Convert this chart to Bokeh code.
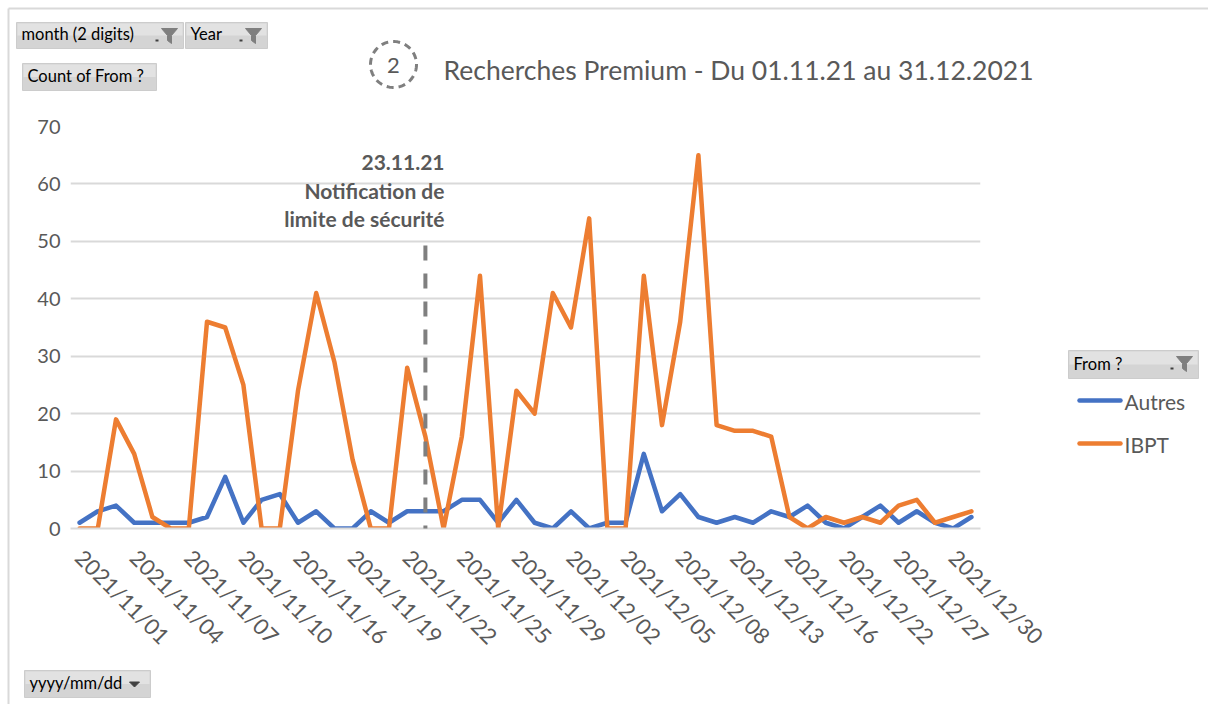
import math
from bokeh.plotting import figure
from bokeh.models import Range1d, Label, Arrow, FixedTicker
from bokeh.core.properties import value
from bokeh.embed import file_html
from bokeh.resources import INLINE

# ---------------- data ----------------
dates = [
    "2021/11/01", "2021/11/02", "2021/11/03", "2021/11/04", "2021/11/05",
    "2021/11/06", "2021/11/07", "2021/11/08", "2021/11/09", "2021/11/10",
    "2021/11/11", "2021/11/14", "2021/11/16", "2021/11/17", "2021/11/18",
    "2021/11/19", "2021/11/20", "2021/11/21", "2021/11/22", "2021/11/23",
    "2021/11/24", "2021/11/25", "2021/11/26", "2021/11/28", "2021/11/29",
    "2021/11/30", "2021/12/01", "2021/12/02", "2021/12/03", "2021/12/04",
    "2021/12/05", "2021/12/06", "2021/12/07", "2021/12/08", "2021/12/09",
    "2021/12/10", "2021/12/13", "2021/12/14", "2021/12/15", "2021/12/16",
    "2021/12/17", "2021/12/21", "2021/12/22", "2021/12/23", "2021/12/24",
    "2021/12/27", "2021/12/28", "2021/12/29", "2021/12/30", "2021/12/31",
]
autres = [1, 3, 4, 1, 1, 1, 1, 2, 9, 1,
          5, 6, 1, 3, 0, 0, 3, 1, 3, 3,
          3, 5, 5, 1, 5, 1, 0, 3, 0, 1,
          1, 13, 3, 6, 2, 1, 2, 1, 3, 2,
          4, 1, 0, 2, 4, 1, 3, 1, 0, 2]
ibpt = [0, 0, 19, 13, 2, 0, 0, 36, 35, 25,
        0, 0, 24, 41, 29, 12, 0, 0, 28, 16,
        0, 16, 44, 0, 24, 20, 41, 35, 54, 0,
        0, 44, 18, 36, 65, 18, 17, 17, 16, 2,
        0, 2, 1, 2, 1, 4, 5, 1, 2, 3]
series_names = ["Autres", "IBPT"]
y_ticks = [0, 10, 20, 30, 40, 50, 60, 70]
label_step = 3
annotation_date = "2021/11/23"
annotation_lines = ["23.11.21", "Notification de", "limite de sécurité"]
title_text = "Recherches Premium - Du 01.11.21 au 31.12.2021"
badge_text = "2"

# ---------------- styling ----------------
FONT = "Lato"
TXT = "#595959"
BLUE = "#4472C4"
ORANGE = "#ED7D31"
GRID = "#d9d9d9"

# frame geometry (canvas pixels)
W, H = 1208, 704
FL, FR, FT, FB = 70, 980, 126, 528
YMAX = 70
BASE_SHIFT = 7  # renderer draws alphabetic baseline a little low

x = list(range(len(dates)))

p = figure(width=W, height=H, output_backend="svg", toolbar_location=None,
           x_range=Range1d(-0.5, len(dates) - 0.5), y_range=Range1d(0, YMAX),
           min_border_left=FL, min_border_right=W - FR, min_border_top=FT,
           min_border_bottom=H - FB)
p.outline_line_color = None
p.background_fill_color = "white"
p.border_fill_color = "white"

# axes
p.xaxis.ticker = FixedTicker(ticks=x[::label_step])
p.xaxis.major_label_overrides = {i: dates[i] for i in x[::label_step]}
p.xaxis.major_label_orientation = -math.pi / 4
p.xaxis.axis_line_color = GRID
p.xaxis.axis_line_width = 2
p.xaxis.major_tick_line_color = None
p.xaxis.minor_tick_line_color = None
p.xaxis.major_tick_out = 0
p.xaxis.major_label_text_font = FONT
p.xaxis.major_label_text_font_size = "22px"
p.xaxis.major_label_text_color = TXT
p.xaxis.major_label_standoff = 25

p.yaxis.ticker = FixedTicker(ticks=y_ticks)
p.yaxis.axis_line_color = None
p.yaxis.major_tick_line_color = None
p.yaxis.minor_tick_line_color = None
p.yaxis.major_tick_out = 0
p.yaxis.major_label_standoff = 10
p.yaxis.major_label_text_font = FONT
p.yaxis.major_label_text_font_size = "20px"
p.yaxis.major_label_text_color = TXT

p.xgrid.grid_line_color = None
p.ygrid.ticker = FixedTicker(ticks=y_ticks)
p.ygrid.grid_line_color = GRID
p.ygrid.grid_line_width = 2

# series
colors = [BLUE, ORANGE]
series = [autres, ibpt]
for vals, col in zip(series, colors):
    p.line(x, vals, line_color=col, line_width=4.5, line_join="round", line_cap="round")

# canvas pixel -> data coordinates (for decorations outside the frame)
XSTEP = (FR - FL) / len(dates)
YSCALE = (FB - FT) / YMAX


def dx(px):
    return -0.5 + (px - FL) / XSTEP


def dy(py):
    return (FB - py) / YSCALE


def sx(px):
    return px - FL


def sy(py):
    return FB - py


def txt(px, py, s, size, color=TXT, align="left", style="normal"):
    p.text(x=[dx(px)], y=[dy(py - BASE_SHIFT)], text=[s], text_font=value(FONT),
           text_font_size=value(size), text_color=color, text_align=align,
           text_baseline="alphabetic", text_font_style=style, level="overlay")


def box(l, t, r, b, color, line=None):
    p.quad(left=[dx(l)], right=[dx(r)], top=[dy(t)], bottom=[dy(b)],
           fill_color=color, line_color=line, level="overlay")


# legend (drawn outside the plot frame)
for i, (name, col) in enumerate(zip(series_names, colors)):
    ly = 400 + 43 * i
    p.segment(x0=[dx(1079)], y0=[dy(ly)], x1=[dx(1120)], y1=[dy(ly)],
              line_color=col, line_width=4.5, line_cap="round", level="overlay")
    txt(1124, ly + 8, name, "21px")

# annotation: vertical dashed marker + text
ax = dates.index(annotation_date)
p.add_layout(Arrow(end=None, x_start=ax, y_start=dy(245), x_end=ax, y_end=dy(566),
                   line_color="#7f7f7f", line_width=4, line_dash="15 13"))
for line, base in zip(annotation_lines, [169, 197, 225]):
    p.add_layout(Label(x=sx(444), y=sy(base - BASE_SHIFT), x_units="screen", y_units="screen",
                       text=line, text_align="right", text_baseline="alphabetic",
                       text_font=FONT, text_font_size="21px",
                       text_font_style="bold", text_color=TXT))

# title with dashed circle badge
cx, cy, rr = 393, 64, 23
n = 90
p.line([dx(cx + rr * math.cos(2 * math.pi * k / n)) for k in range(n + 1)],
       [dy(cy + rr * math.sin(2 * math.pi * k / n)) for k in range(n + 1)],
       line_color="#7f7f7f", line_width=3, line_dash="7 5", level="overlay")
txt(cx, cy + 8, badge_text, "22px", align="center")
txt(443, 76, title_text, "26.5px")


# pivot field buttons
def button(l, t, r, b, s, funnel=True, arrow=False):
    box(l, t, r, b, "#d4d4d4", "#cccccc")
    box(l + 1, t + 1, r - 1, (t + b) / 2, "#e2e2e2")
    txt(l + 5, b - 8, s, "16.5px", color="#000000")
    if funnel:
        fx, ft = r - 14, t + 6
        pts = [(fx - 8, ft), (fx + 8, ft), (fx + 2, ft + 7), (fx + 2, ft + 15),
               (fx - 2, ft + 12), (fx - 2, ft + 7)]
        p.patch([dx(a) for a, _ in pts], [dy(c) for _, c in pts],
                fill_color="#7f7f7f", line_color="#7f7f7f", level="overlay")
        box(fx - 14, ft + 11, fx - 11, ft + 13, "#404040")
    if arrow:
        ax0, ay0 = r - 16, (t + b) / 2
        pts = [(ax0 - 5, ay0 - 2), (ax0 + 5, ay0 - 2), (ax0, ay0 + 3)]
        p.patch([dx(a) for a, _ in pts], [dy(c) for _, c in pts],
                fill_color="#404040", line_color="#404040", level="overlay")


button(16, 22, 183, 48, "month (2 digits)")
button(185, 22, 267, 48, "Year")
button(22, 63, 156, 90, "Count of From ?", funnel=False)
button(1068, 350, 1198, 378, "From ?")
button(24, 670, 150, 697, "yyyy/mm/dd", funnel=False, arrow=True)

# chart border (top and left edges)
p.segment(x0=[dx(8), dx(8)], y0=[dy(8), dy(8)], x1=[dx(1208), dx(8)], y1=[dy(8), dy(704)],
          line_color=GRID, line_width=2, level="overlay")

open("out.html", "w").write(file_html(p, INLINE))
